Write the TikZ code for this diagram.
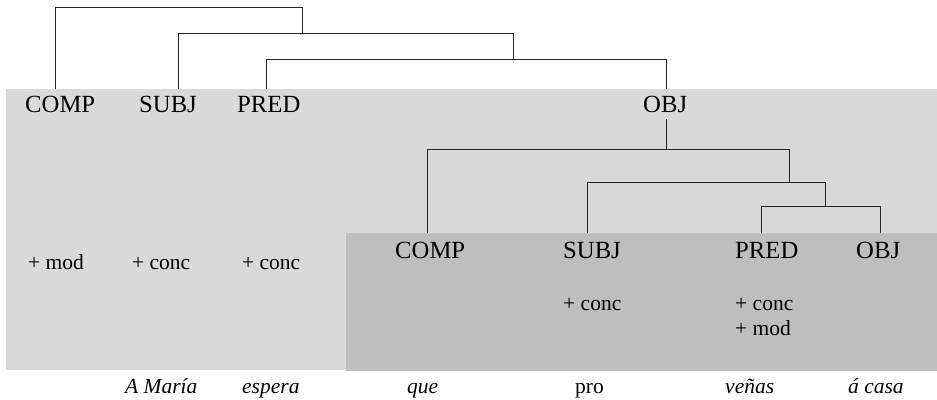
\documentclass[tikz,border=0pt]{standalone}
\usepackage{fontspec}
\setmainfont{Liberation Serif}
\definecolor{outerbg}{RGB}{217,217,217}
\definecolor{innerbg}{RGB}{190,190,190}
\tikzset{
  link/.style={draw=black!85, line width=1pt},
  fn/.style={anchor=base west, inner sep=0pt, font=\fontsize{24.7}{28}\selectfont},
  feat/.style={anchor=base west, inner sep=0pt, font=\fontsize{21.5}{25}\selectfont},
  word/.style={anchor=base west, inner sep=0pt, font=\fontsize{21.5}{25}\selectfont\itshape},
  plain/.style={anchor=base west, inner sep=0pt, font=\fontsize{21.5}{25}\selectfont},
  panel/.style={anchor=north west, inner sep=0pt, outer sep=0pt, draw=none}
}
\begin{document}
\begin{tikzpicture}[x=1pt, y=-1pt]
\useasboundingbox (0,0) rectangle (937,399);

% shaded panels: main clause and embedded clause
\node[panel, fill=outerbg, minimum width=931pt, minimum height=281pt] (outer) at (6,89) {};
\node[panel, fill=innerbg, minimum width=591pt, minimum height=138pt] (inner) at (346,233) {};

% main clause functions
\node[fn] (oComp) at (25,112) {COMP};
\node[fn] (oSubj) at (139,112) {SUBJ};
\node[fn] (oPred) at (237,112) {PRED};
\node[fn] (oObj)  at (643,112) {OBJ};

\node[feat] (oCompF) at (28,269) {+ mod};
\node[feat] (oSubjF) at (132,269) {+ conc};
\node[feat] (oPredF) at (242,269) {+ conc};

% embedded clause functions
\node[fn] (iComp) at (395,258) {COMP};
\node[fn] (iSubj) at (563,258) {SUBJ};
\node[fn] (iPred) at (735,258) {PRED};
\node[fn] (iObj)  at (856,258) {OBJ};

\node[feat] (iSubjF)  at (563,310) {+ conc};
\node[feat] (iPredF)  at (735,310) {+ conc};
\node[feat] (iPredF2) at (735,335) {+ mod};

% words
\node[word]  (w1) at (125,393) {A María};
\node[word]  (w2) at (242,393) {espera};
\node[word]  (w3) at (407,393) {que};
\node[plain] (w4) at (575,393) {pro};
\node[word]  (w5) at (725,393) {veñas};
\node[word]  (w6) at (848,393) {á casa};

% feet of the main-clause branches
\coordinate (fC) at (55,89);
\coordinate (fS) at (178,89);
\coordinate (fP) at (266,89);
\coordinate (fO) at (666,89);
% bar corners of the main clause
\coordinate (k1) at (302,7);
\coordinate (b1) at (302,33);
\coordinate (k2) at (513,33);
\coordinate (b2) at (513,59);
\coordinate (k3) at (666,59);

\draw[link] (fC) |- (k1) -- (b1);
\draw[link] (fS) |- (k2) -- (b2);
\draw[link] (fP) |- (k3) -- (fO);

% embedded clause branches
\coordinate (oStem) at (666,119);
\coordinate (m1) at (666,149);
\coordinate (gC) at (427,233);
\coordinate (k4) at (789,149);
\coordinate (m2) at (789,182);
\coordinate (gS) at (587,233);
\coordinate (k5) at (825,182);
\coordinate (m3) at (825,206);
\coordinate (gP) at (761,233);
\coordinate (k6) at (880,206);
\coordinate (gO) at (880,233);

\draw[link] (oStem) -- (m1);
\draw[link] (gC) |- (k4) -- (m2);
\draw[link] (gS) |- (k5) -- (m3);
\draw[link] (gP) |- (k6) -- (gO);
\end{tikzpicture}
\end{document}
